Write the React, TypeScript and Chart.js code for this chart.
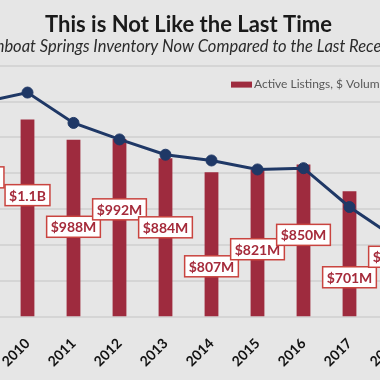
import React, { useEffect, useRef } from 'react';
import { Chart, registerables } from 'chart.js';

Chart.register(...registerables);

// ---- data ----
const years = ['2009', '2010', '2011', '2012', '2013', '2014', '2015', '2016', '2017', '2018'];
// Active listings, $ volume (millions of dollars)
const dollarVolume = [1300, 1100, 988, 992, 884, 807, 821, 850, 701, 600];
// Active listings, number of units
const activeUnits = [1195, 1250, 1081, 989, 904, 872, 822, 829, 613, 440];
// text of each bar's data label
const volumeLabels = ['$1.3B', '$1.1B', '$988M', '$992M', '$884M', '$807M', '$821M', '$850M', '$701M', '$600M'];
// where each data label sits, in $-volume units on the value axis
const labelAnchors = [778, 679, 503, 600, 500, 283, 378, 458, 222, 336];
const volumeMax = 1400;
const volumeStep = 200;

const BAR_COLOR = '#9e2b3e';
const LINE_COLOR = '#1f3866';
const FONT = 'Lato, "Open Sans", sans-serif';

// boxed data labels on the bars
const boxLabels = {
  id: 'boxLabels',
  afterDatasetsDraw(chart: any) {
    const meta = chart.getDatasetMeta(0);
    const yScale = chart.scales.y;
    const ctx = chart.ctx;
    ctx.save();
    ctx.font = `bold 14px ${FONT}`;
    ctx.textAlign = 'center';
    ctx.textBaseline = 'middle';
    meta.data.forEach((bar: any, i: number) => {
      const text = volumeLabels[i];
      const cx = bar.x;
      const cy = yScale.getPixelForValue(labelAnchors[i]);
      const w = ctx.measureText(text).width + 8;
      const h = 21;
      ctx.fillStyle = '#ffffff';
      ctx.fillRect(cx - w / 2, cy - h / 2, w, h);
      ctx.strokeStyle = '#c9443f';
      ctx.lineWidth = 1.5;
      ctx.strokeRect(cx - w / 2, cy - h / 2, w, h);
      ctx.fillStyle = '#a52a3a';
      ctx.fillText(text, cx, cy + 1);
    });
    ctx.restore();
  },
};

// legend entry for the bar series, placed inside the plot area (top right)
const insideLegend = {
  id: 'insideLegend',
  afterDraw(chart: any) {
    const ds = chart.data.datasets[0];
    const area = chart.chartArea;
    const ctx = chart.ctx;
    const x = area.right - 187.5;
    const y = area.top + 19;
    ctx.save();
    ctx.fillStyle = ds.backgroundColor;
    ctx.fillRect(x, y - 3, 21, 6);
    ctx.font = `12px ${FONT}`;
    ctx.fillStyle = '#595959';
    ctx.textAlign = 'left';
    ctx.textBaseline = 'middle';
    ctx.fillText(ds.label, x + 23, y);
    ctx.restore();
  },
};

export default function App() {
  const canvasRef = useRef<HTMLCanvasElement | null>(null);

  useEffect(() => {
    if (!canvasRef.current) return;
    const chart = new Chart(canvasRef.current, {
      type: 'bar',
      data: {
        labels: years,
        datasets: [
          {
            type: 'bar',
            label: 'Active Listings, $ Volume',
            data: dollarVolume,
            backgroundColor: BAR_COLOR,
            borderWidth: 0,
            barPercentage: 0.3,
            categoryPercentage: 1,
            yAxisID: 'y',
            order: 2,
          } as any,
          {
            type: 'line',
            label: 'Active Listings, # Units',
            data: activeUnits,
            borderColor: LINE_COLOR,
            backgroundColor: LINE_COLOR,
            borderWidth: 3,
            pointRadius: 5.5,
            pointBackgroundColor: LINE_COLOR,
            pointBorderColor: LINE_COLOR,
            pointBorderWidth: 1,
            tension: 0,
            yAxisID: 'y1',
            order: 1,
          } as any,
        ],
      },
      options: {
        responsive: false,
        animation: false,
        devicePixelRatio: 1,
        layout: { padding: { left: 18.5, right: 21.5, top: 0, bottom: 0 } },
        plugins: {
          title: {
            display: true,
            text: 'This is Not Like the Last Time',
            color: '#1a1a1a',
            font: { family: FONT, size: 22, weight: 'bold', lineHeight: 1.1 },
            padding: { top: 13, bottom: 0 },
          },
          subtitle: {
            display: true,
            text: 'Steamboat Springs Inventory Now Compared to the Last Recession',
            color: '#2b2b2b',
            font: { family: FONT, size: 16.5, style: 'italic', lineHeight: 1.2 },
            padding: { top: 0, bottom: 8.6 },
          },
          legend: { display: false },
          tooltip: { enabled: false },
        },
        scales: {
          x: {
            grid: { display: false },
            border: { display: false },
            ticks: {
              minRotation: 45,
              maxRotation: 45,
              color: '#111111',
              padding: 10,
              font: { family: FONT, size: 14, weight: 'bold' },
            },
          },
          y: {
            min: 0,
            max: volumeMax,
            ticks: { display: false, stepSize: volumeStep },
            grid: { color: '#d5d5d5', lineWidth: 2, drawTicks: false },
            border: { display: false },
          },
          y1: { display: false, min: 0, max: volumeMax },
        },
      } as any,
      plugins: [boxLabels, insideLegend],
    });
    return () => chart.destroy();
  }, []);

  return (
    <div
      style={{
        position: 'fixed',
        left: 0,
        top: 0,
        width: 380,
        height: 380,
        overflow: 'hidden',
        background: '#e6e6e6',
      }}
    >
      <div style={{ position: 'absolute', left: -60, top: 0, width: 500, height: 380 }}>
        <canvas ref={canvasRef} width={500} height={380} style={{ display: 'block' }} />
      </div>
    </div>
  );
}
